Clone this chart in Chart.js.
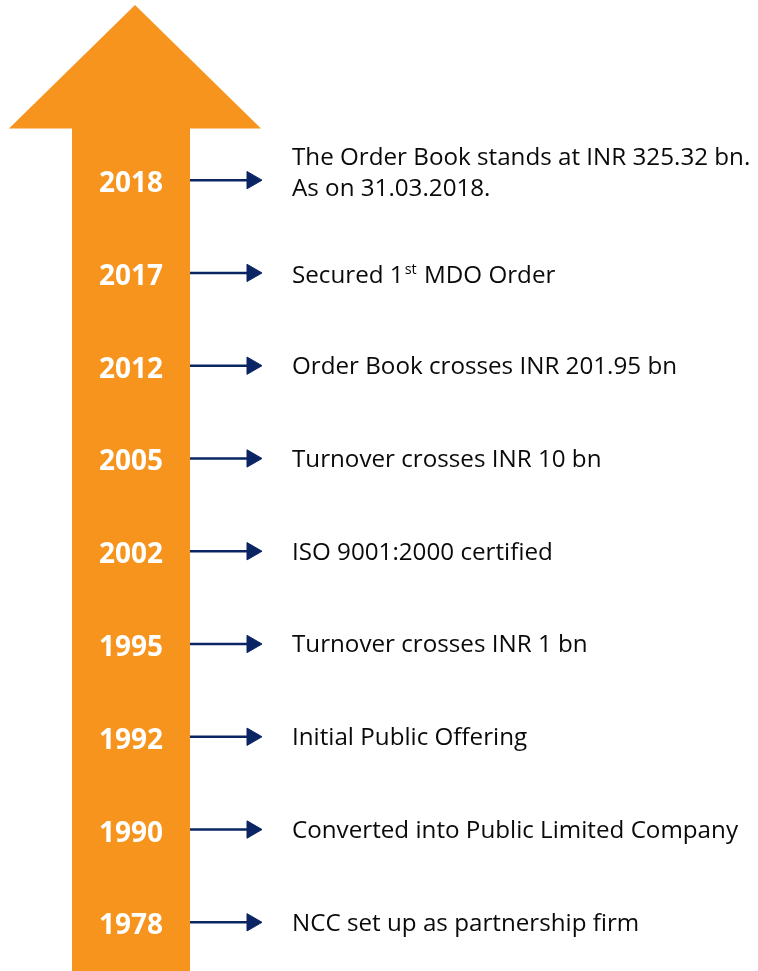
<!DOCTYPE html>
<html>
<head>
<meta charset="utf-8">
<script src="https://cdn.jsdelivr.net/npm/chart.js@4.4.1/dist/chart.umd.min.js"></script>
<style>
  html, body { margin: 0; padding: 0; background: #ffffff; }
  #wrap { width: 758px; height: 971px; position: relative; }
</style>
</head>
<body>
<div id="wrap"><canvas id="c"></canvas></div>
<script>
// ---- data (chronological, bottom to top) ----
const years = ['1978', '1990', '1992', '1995', '2002', '2005', '2012', '2017', '2018'];
const descriptions = [
  ['NCC set up as partnership firm'],
  ['Converted into Public Limited Company'],
  ['Initial Public Offering'],
  ['Turnover crosses INR 1 bn'],
  ['ISO 9001:2000 certified'],
  ['Turnover crosses INR 10 bn'],
  ['Order Book crosses INR 201.95 bn'],
  ['Secured 1^{st} MDO Order'],
  ['The Order Book stands at INR 325.32 bn.', 'As on 31.03.2018.']
];
const positions = years.map((_, i) => i);

// ---- layout / style ----
const ORANGE = '#F7941D';
const NAVY = '#0B2464';
const Y_MIN = -0.525, Y_MAX = 9.942;
const SHAFT_L = 72, SHAFT_R = 190;
const HEAD_L = 9, HEAD_R = 261, HEAD_TIP_X = 135;
const HEAD_BASE_V = 8.557, HEAD_TIP_V = 9.888;
const CONN_X0 = 190, CONN_X1 = 252;
const YEAR_X = 131, TEXT_X = 292;
const BODY_FONT = '24.2px "Open Sans", "Liberation Sans", sans-serif';
const SUP_FONT = '14.5px "Open Sans", "Liberation Sans", sans-serif';
const YEAR_FONT = 'bold 28px "Open Sans", "Liberation Sans", sans-serif';
const LINE_GAP = 31;

const arrowPlugin = {
  id: 'bigArrow',
  beforeDatasetsDraw(chart) {
    const { ctx, scales: { x, y } } = chart;
    const bottom = y.getPixelForValue(Y_MIN);
    const base = y.getPixelForValue(HEAD_BASE_V);
    const tip = y.getPixelForValue(HEAD_TIP_V);
    ctx.save();
    ctx.fillStyle = ORANGE;
    ctx.beginPath();
    ctx.moveTo(x.getPixelForValue(SHAFT_L), bottom);
    ctx.lineTo(x.getPixelForValue(SHAFT_L), base);
    ctx.lineTo(x.getPixelForValue(HEAD_L), base);
    ctx.lineTo(x.getPixelForValue(HEAD_TIP_X), tip);
    ctx.lineTo(x.getPixelForValue(HEAD_R), base);
    ctx.lineTo(x.getPixelForValue(SHAFT_R), base);
    ctx.lineTo(x.getPixelForValue(SHAFT_R), bottom);
    ctx.closePath();
    ctx.fill();
    ctx.restore();
  }
};

function drawRich(ctx, str, x0, baseline) {
  const parts = str.split(/(\^\{[^}]*\})/).filter(s => s.length);
  let x = x0;
  parts.forEach(p => {
    if (p.startsWith('^{')) {
      const t = p.slice(2, -1);
      ctx.font = SUP_FONT;
      ctx.fillText(t, x + 1, baseline - 9);
      x += ctx.measureText(t).width + 2;
    } else {
      ctx.font = BODY_FONT;
      ctx.fillText(p, x, baseline);
      x += ctx.measureText(p).width;
    }
  });
}

const labelPlugin = {
  id: 'timelineLabels',
  afterDatasetsDraw(chart) {
    const { ctx, scales: { x, y } } = chart;
    ctx.save();
    ctx.textBaseline = 'alphabetic';
    positions.forEach((p, i) => {
      const py = y.getPixelForValue(p);
      // year label
      ctx.fillStyle = '#ffffff';
      ctx.font = YEAR_FONT;
      ctx.textAlign = 'center';
      ctx.fillText(years[i], x.getPixelForValue(YEAR_X), py + 12);
      // description
      ctx.fillStyle = '#0a0a0a';
      ctx.textAlign = 'left';
      const lines = descriptions[i];
      const hasSup = lines.some(l => l.includes('^{'));
      const n = lines.length;
      const blockShift = n > 1 ? -8 : (hasSup ? 2 : 0);
      lines.forEach((line, k) => {
        const base = py + 8.5 + blockShift + (k - (n - 1) / 2) * LINE_GAP;
        drawRich(ctx, line, x.getPixelForValue(TEXT_X), base);
      });
    });
    ctx.restore();
  }
};

const datasets = positions.map((p, i) => ({
  label: years[i],
  data: [{ x: CONN_X0, y: p }, { x: CONN_X1, y: p }],
  showLine: true,
  borderColor: NAVY,
  borderWidth: 2.5,
  pointRadius: [0, 10],
  pointStyle: 'triangle',
  rotation: 90,
  pointBackgroundColor: NAVY,
  pointBorderColor: NAVY,
  pointBorderWidth: 1
}));

new Chart(document.getElementById('c'), {
  type: 'scatter',
  data: { datasets },
  plugins: [arrowPlugin, labelPlugin],
  options: {
    responsive: true,
    maintainAspectRatio: false,
    animation: false,
    events: [],
    layout: { padding: 0, autoPadding: false },
    plugins: { legend: { display: false }, tooltip: { enabled: false } },
    scales: {
      x: { type: 'linear', min: 0, max: 758, display: false },
      y: { type: 'linear', min: Y_MIN, max: Y_MAX, display: false }
    }
  }
});
</script>
</body>
</html>
